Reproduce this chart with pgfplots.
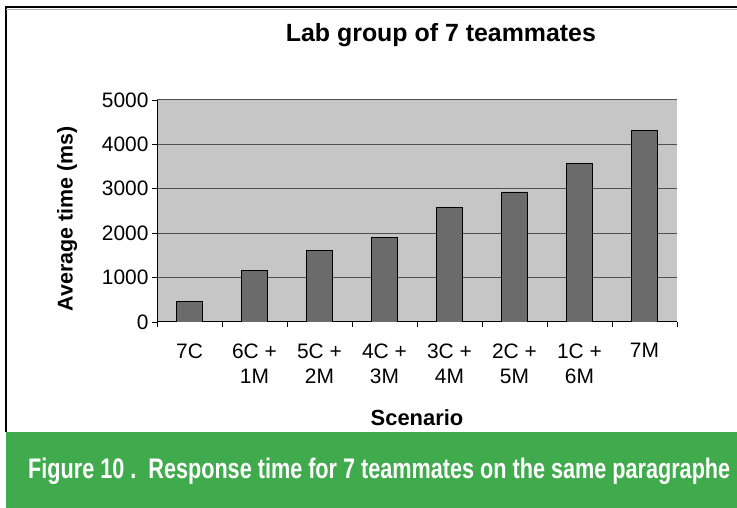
\documentclass[border=0pt]{standalone}
\usepackage{pgfplots}
\pgfplotsset{compat=1.18}
\usepackage{fontspec}
\setmainfont{Liberation Sans}
\definecolor{capgreen}{HTML}{40AB4C}
\definecolor{plotbg}{HTML}{C6C6C6}
\definecolor{barfill}{HTML}{6B6B6B}
\definecolor{gridc}{HTML}{505050}
\begin{document}
\begin{tikzpicture}
\useasboundingbox (0,0) rectangle (737bp,508bp);
\fill[white] (0,0) rectangle (737bp,508bp);
% frame
\draw[black, line width=1.2bp] (6bp,76bp) -- (6bp,501bp) -- (737bp,501bp);
\draw[gray!60, line width=0.6bp] (6bp,499bp) -- (737bp,499bp);
% green caption band
\fill[capgreen] (6bp,0) rectangle (737bp,76bp);
\node[anchor=base west, inner sep=0pt, text=white] at (28bp,30bp)
  {\resizebox{702bp}{20.5bp}{\bfseries Figure 10 .~~Response time for 7 teammates on the same paragraphe}};
\begin{axis}[
  scale only axis,
  width=520bp, height=222bp,
  at={(157bp,186bp)}, anchor=south west,
  xmin=-0.5, xmax=7.5,
  ymin=0, ymax=5000,
  ytick={0,1000,...,5000},
  xtick={-0.5,0.5,...,7.5},
  x tick label as interval,
  xticklabels={7C,{6C +\\1M},{5C +\\2M},{4C +\\3M},{3C +\\4M},{2C +\\5M},{1C +\\6M},7M,{}},
  xticklabel style={align=center, font=\fontsize{21}{25}\selectfont, yshift=-13bp},
  yticklabel style={font=\fontsize{21}{24}\selectfont, /pgf/number format/1000 sep={}},
  /pgf/number format/assume math mode=true,
  scaled y ticks=false,
  tick align=outside,
  major tick length=5bp,
  tick style={black, line width=0.6bp},
  axis x line*=bottom,
  axis y line*=left,
  axis line style={-, black, line width=1bp},
  axis background/.style={fill=plotbg},
  ymajorgrids,
  grid style={gridc, line width=1bp},
  title={Lab group of 7 teammates},
  title style={at={(axis description cs:0.546,1.266)}, anchor=center, font=\bfseries\fontsize{25}{28}\selectfont},
  xlabel={Scenario},
  every axis x label/.append style={at={(axis description cs:0.5,-0.432)}, anchor=center, font=\bfseries\fontsize{22}{24}\selectfont},
  ylabel={Average time (ms)},
  every axis y label/.append style={at={(axis description cs:-0.173,0.464)}, anchor=center, rotate=0, font=\bfseries\fontsize{21.5}{24}\selectfont},
]
\addplot[ybar, bar width=0.41, fill=barfill, draw=black, line width=0.8bp]
  coordinates {(0,470) (1,1170) (2,1620) (3,1910) (4,2580) (5,2930) (6,3570) (7,4320)};
\end{axis}
\end{tikzpicture}
\end{document}
